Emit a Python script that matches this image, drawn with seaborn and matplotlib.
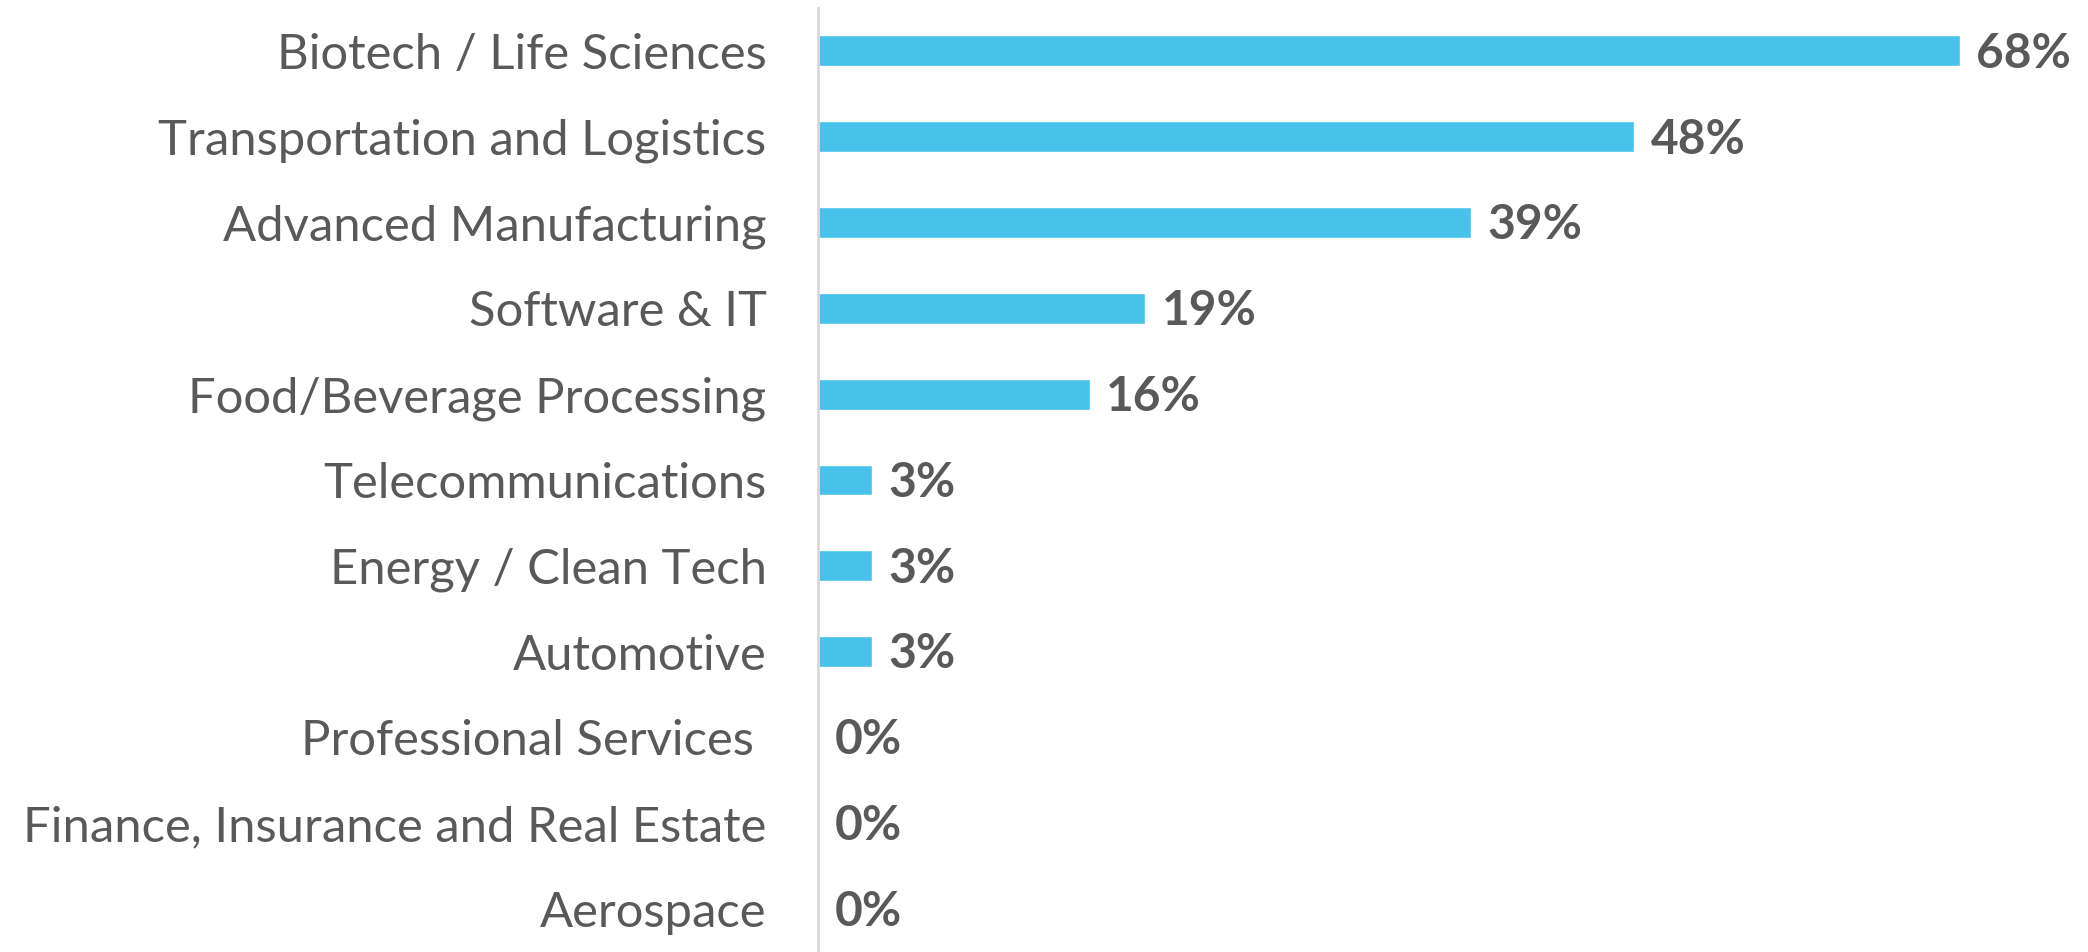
import matplotlib
matplotlib.use("Agg")
import matplotlib.pyplot as plt
import seaborn as sns
import pandas as pd

categories = [
    "Biotech / Life Sciences",
    "Transportation and Logistics",
    "Advanced Manufacturing",
    "Software & IT",
    "Food/Beverage Processing",
    "Telecommunications",
    "Energy / Clean Tech",
    "Automotive",
    "Professional Services ",
    "Finance, Insurance and Real Estate",
    "Aerospace",
]
values = [67.7, 48.4, 38.7, 19.4, 16.1, 3.2, 3.2, 3.2, 0, 0, 0]
value_labels = ["68%", "48%", "39%", "19%", "16%", "3%", "3%", "3%", "0%", "0%", "0%"]

df = pd.DataFrame({"category": categories, "value": values})

sns.set_theme(style="white")
plt.rcParams["font.family"] = ["Lato", "DejaVu Sans"]

TEXT = "#595959"
BAR = "#49C2EB"

fig = plt.figure(figsize=(20.88, 9.52), dpi=100)
ax = fig.add_axes([818 / 2088, 0.0, 1 - 818 / 2088, 944 / 952])

sns.barplot(data=df, x="value", y="category", orient="h", color=BAR,
            width=0.36, saturation=1, ax=ax, order=categories)

ax.set_xlim(0, 75.3)
ax.set_ylim(10.5, -0.5)
ax.set_xlabel("")
ax.set_ylabel("")
ax.set_xticks([])
ax.tick_params(axis="y", length=0, pad=37, labelsize=35.3, labelcolor=TEXT)
for s in ["top", "right", "bottom"]:
    ax.spines[s].set_visible(False)
ax.spines["left"].set_color("#D9D9D9")
ax.spines["left"].set_linewidth(2)

for i, (v, lab) in enumerate(zip(values, value_labels)):
    ax.annotate(lab, xy=(v, i), xytext=(12, -2), textcoords="offset points",
                ha="left", va="center", fontsize=34.5, fontweight="bold", color=TEXT)

fig.savefig("out.png", dpi=100, facecolor="white")
